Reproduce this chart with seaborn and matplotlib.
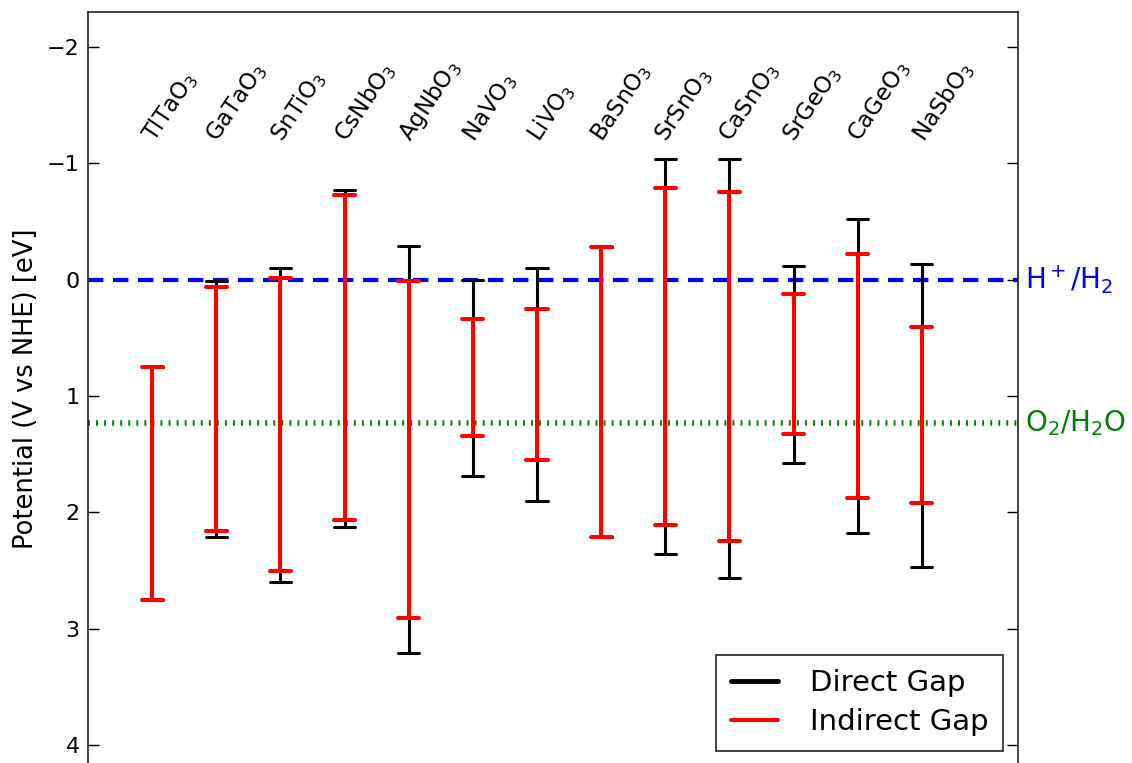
import matplotlib
matplotlib.use("Agg")
import matplotlib.pyplot as plt
from matplotlib.lines import Line2D
import numpy as np
import pandas as pd
import seaborn as sns

# ---------------- data ----------------
compounds = ["TlTaO$_3$", "GaTaO$_3$", "SnTiO$_3$", "CsNbO$_3$", "AgNbO$_3$",
             "NaVO$_3$", "LiVO$_3$", "BaSnO$_3$", "SrSnO$_3$", "CaSnO$_3$",
             "SrGeO$_3$", "CaGeO$_3$", "NaSbO$_3$"]
direct_top = [0.75, 0.01, -0.10, -0.77, -0.29, 0.00, -0.10, -0.28, -1.04, -1.04, -0.12, -0.52, -0.13]
direct_bottom = [2.75, 2.21, 2.60, 2.13, 3.21, 1.69, 1.90, 2.21, 2.36, 2.56, 1.58, 2.18, 2.47]
indirect_top = [0.75, 0.06, -0.01, -0.73, 0.01, 0.34, 0.25, -0.28, -0.79, -0.75, 0.12, -0.22, 0.41]
indirect_bottom = [2.75, 2.16, 2.50, 2.07, 2.91, 1.34, 1.55, 2.21, 2.11, 2.25, 1.33, 1.88, 1.92]
h_level = 0.0
o_level = 1.23
yticks = [-2, -1, 0, 1, 2, 3, 4]


def long_frame(top, bottom, label):
    return pd.DataFrame({
        "compound": compounds * 2,
        "potential": list(top) + list(bottom),
        "gap": label,
    })


df_direct = long_frame(direct_top, direct_bottom, "Direct Gap")
df_indirect = long_frame(indirect_top, indirect_bottom, "Indirect Gap")

# ---------------- style ----------------
sns.set_style("white")
plt.rcParams["font.family"] = ["DejaVu Sans"]
plt.rcParams["mathtext.default"] = "regular"
plt.rcParams["text.color"] = "black"
plt.rcParams["axes.labelcolor"] = "black"
plt.rcParams["xtick.color"] = "black"
plt.rcParams["ytick.color"] = "black"

W, H = 1132, 763
fig = plt.figure(figsize=(W / 100, H / 100), dpi=100)
ax_left, ax_right, ax_top, ax_bot = 88, 1018, 12, 766
ax = fig.add_axes([ax_left / W, 1 - ax_bot / H, (ax_right - ax_left) / W, (ax_bot - ax_top) / H])

sns.pointplot(data=df_direct, x="compound", y="potential", order=compounds,
              estimator="mean", errorbar=("pi", 100), capsize=0.33,
              color="black", err_kws={"linewidth": 2.2},
              marker="", linestyle="none", ax=ax, zorder=2)
sns.pointplot(data=df_indirect, x="compound", y="potential", order=compounds,
              estimator="mean", errorbar=("pi", 100), capsize=0.33,
              color="red", err_kws={"linewidth": 2.9},
              marker="", linestyle="none", ax=ax, zorder=3)

ax.axhline(h_level, color="blue", lw=3.0, linestyle=(0, (3.7, 2.3)), zorder=1)
ax.axhline(o_level, color="green", lw=4.0, linestyle=(0, (0.35, 1.1)), zorder=1)

ax.set_xlim(-1, 13.5)
ax.set_ylim(4.18, -2.3)
ax.set_xticks([])
ax.set_xlabel("")
ax.set_yticks(yticks)
ax.yaxis.set_ticks_position("both")
ax.tick_params(axis="y", direction="in", length=8, width=1, labelsize=16, pad=6)
ax.set_ylabel("Potential (V vs NHE) [eV]", fontsize=18.5, labelpad=6)
for s in ax.spines.values():
    s.set_color("#222222")
    s.set_linewidth(1.2)

for i, name in enumerate(compounds):
    ax.text(i - 0.23, -1.15, name, rotation=56, ha="left", va="bottom", fontsize=16.5)

trans = ax.get_yaxis_transform()
ax.text(1.0075, h_level, "H$^+$/H$_2$", color="blue", fontsize=20,
        transform=trans, ha="left", va="center", clip_on=False)
ax.text(1.0075, o_level, "O$_2$/H$_2$O", color="green", fontsize=20,
        transform=trans, ha="left", va="center", clip_on=False)

handles = [Line2D([], [], color="black", lw=3.5), Line2D([], [], color="red", lw=2.8)]
leg = ax.legend(handles, ["Direct Gap", "Indirect Gap"], loc="lower right",
                bbox_to_anchor=(1003 / W, 1 - 751 / H), bbox_transform=fig.transFigure,
                borderaxespad=0, fontsize=21, frameon=True, fancybox=False, framealpha=1,
                handlelength=1.6, handletextpad=1.1, borderpad=0.5, labelspacing=0.38)
leg.get_frame().set_edgecolor("#222222")
leg.get_frame().set_linewidth(1.2)

fig.savefig("out.png", dpi=100)
